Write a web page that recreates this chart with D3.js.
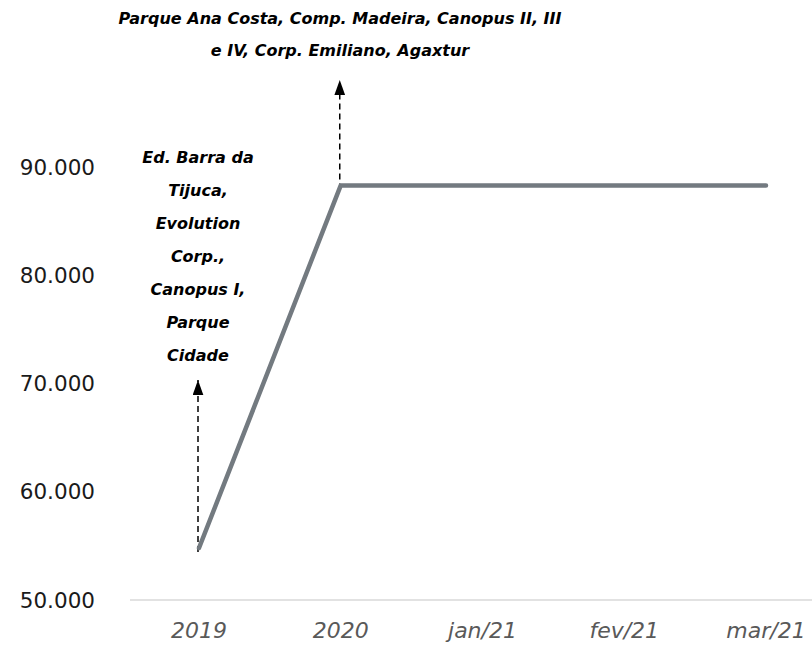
<!DOCTYPE html>
<html><head><meta charset="utf-8">
<script src="https://cdn.jsdelivr.net/npm/d3@7"></script>
<style>body{margin:0;background:#fff;}</style>
</head><body>
<svg id="c" width="812" height="650"></svg>
<script>
const categories = ["2019", "2020", "jan/21", "fev/21", "mar/21"];
const values = [54800, 88300, 88300, 88300, 88300];
const yTicks = [50000, 60000, 70000, 80000, 90000];
const yTickLabels = ["50.000", "60.000", "70.000", "80.000", "90.000"];
const annotations = [
  {cat: "2019", from: 54800, lines: ["Ed. Barra da", "Tijuca,", "Evolution", "Corp.,", "Canopus I,", "Parque", "Cidade"]},
  {cat: "2020", from: 88300, lines: ["Parque Ana Costa, Comp. Madeira, Canopus II, III", "e IV, Corp. Emiliano, Agaxtur"]}
];

const svg = d3.select("#c");
const font = "'DejaVu Sans', 'Open Sans', sans-serif";
const x = d3.scalePoint().domain(categories).range([199, 766]);
const y = d3.scaleLinear().domain([50000, 90000]).range([600, 167]);

svg.append("defs").append("marker")
  .attr("id", "arr").attr("viewBox", "0 0 10 14").attr("refX", 5).attr("refY", 0)
  .attr("markerWidth", 11).attr("markerHeight", 15).attr("markerUnits", "userSpaceOnUse")
  .attr("orient", "0")
  .append("path").attr("d", "M0,14 L5,0 L10,14 Z").attr("fill", "#000");

// baseline
svg.append("line").attr("x1", 130).attr("x2", 812).attr("y1", y(50000)).attr("y2", y(50000))
  .attr("stroke", "#d9d9d9").attr("stroke-width", 1.3);

// y tick labels
svg.append("g").selectAll("text").data(yTicks).join("text")
  .attr("x", 95).attr("y", d => y(d)).attr("dy", "0.36em").attr("text-anchor", "end")
  .attr("font-family", font).attr("font-size", 21.5).attr("fill", "#1a1a1a")
  .text((d, i) => yTickLabels[i]);

// x tick labels
svg.append("g").selectAll("text").data(categories).join("text")
  .attr("x", d => x(d)).attr("y", 638).attr("text-anchor", "middle")
  .attr("font-family", font).attr("font-style", "italic").attr("font-size", 22).attr("fill", "#595959")
  .text(d => d);

// annotation arrows
const arrowTop = {"2019": 379, "2020": 79};
annotations.forEach(a => {
  svg.append("line").attr("x1", x(a.cat) - 1).attr("x2", x(a.cat) - 1)
    .attr("y1", y(a.from) + 4).attr("y2", arrowTop[a.cat] + 1)
    .attr("stroke", "#000").attr("stroke-width", 1.5).attr("stroke-dasharray", "6,4")
    .attr("marker-end", "url(#arr)");
});

// main line
svg.append("path").datum(values)
  .attr("d", d3.line().x((d, i) => x(categories[i])).y(d => y(d)))
  .attr("fill", "none").attr("stroke", "#737a80").attr("stroke-width", 4.5)
  .attr("stroke-linecap", "round").attr("stroke-linejoin", "round");

// annotation texts
const textPos = {"2019": {x: 198, y0: 163, dy: 33}, "2020": {x: 340, y0: 24, dy: 32}};
annotations.forEach(a => {
  const p = textPos[a.cat];
  svg.append("g").selectAll("text").data(a.lines).join("text")
    .attr("x", p.x).attr("y", (d, i) => p.y0 + i * p.dy).attr("text-anchor", "middle")
    .attr("font-family", font).attr("font-style", "italic").attr("font-weight", "bold")
    .attr("font-size", 16).attr("fill", "#000").text(d => d);
});
</script>
</body></html>
